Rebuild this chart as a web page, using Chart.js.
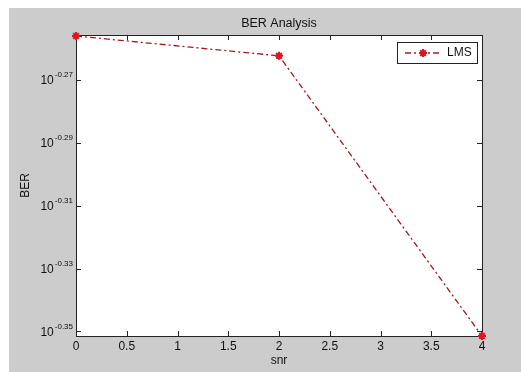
<!DOCTYPE html>
<html>
<head>
<meta charset="utf-8">
<script src="https://cdn.jsdelivr.net/npm/chart.js@4"></script>
<style>
  html, body { margin: 0; padding: 0; background: #fff; }
  #wrap { width: 521px; height: 372px; }
</style>
</head>
<body>
<div id="wrap"><canvas id="berChart" width="521" height="372"></canvas></div>
<script>
// data
const snr = [0, 2, 4];
const ber = [0.5546, 0.5466, 0.4452];
const xTicks = [0, 0.5, 1, 1.5, 2, 2.5, 3, 3.5, 4];
const xTickLabels = ['0', '0.5', '1', '1.5', '2', '2.5', '3', '3.5', '4'];
const yTickExps = ['-0.27', '-0.29', '-0.31', '-0.33', '-0.35'];
const yTicks = yTickExps.map(e => Math.pow(10, parseFloat(e)));

const FONT = '"Liberation Sans", Arial, sans-serif';
const LINE_COLOR = '#a8161f';
const MARK_COLOR = '#e0141c';

// MATLAB style figure: gray frame, boxed axes, inward ticks
const matlabFrame = {
    id: 'matlabFrame',
    beforeDraw(chart) {
        const ctx = chart.ctx;
        const a = chart.chartArea;
        ctx.save();
        ctx.fillStyle = '#fff';
        ctx.fillRect(0, 0, chart.width, chart.height);
        ctx.fillStyle = '#cccccc';
        ctx.fillRect(9, 8, chart.width - 9, chart.height - 8);
        ctx.fillStyle = '#fff';
        ctx.fillRect(a.left, a.top, a.right - a.left, a.bottom - a.top);
        ctx.restore();
    },
    beforeDatasetsDraw(chart) {
        const ctx = chart.ctx;
        const a = chart.chartArea;
        const xs = chart.scales.x;
        const ys = chart.scales.y;
        ctx.save();
        ctx.strokeStyle = '#222';
        ctx.lineWidth = 1;
        ctx.strokeRect(a.left + 0.5, a.top + 0.5, a.right - a.left, a.bottom - a.top);

        ctx.beginPath();
        xTicks.forEach(v => {
            const px = Math.round(xs.getPixelForValue(v)) + 0.5;
            ctx.moveTo(px, a.bottom);
            ctx.lineTo(px, a.bottom - 5);
            ctx.moveTo(px, a.top);
            ctx.lineTo(px, a.top + 5);
        });
        yTicks.forEach(v => {
            const py = Math.round(ys.getPixelForValue(v)) + 0.5;
            ctx.moveTo(a.left, py);
            ctx.lineTo(a.left + 5, py);
            ctx.moveTo(a.right, py);
            ctx.lineTo(a.right - 5, py);
        });
        ctx.stroke();

        // tick labels
        ctx.fillStyle = '#111';
        ctx.font = '12px ' + FONT;
        ctx.textAlign = 'center';
        ctx.textBaseline = 'middle';
        xTicks.forEach((v, i) => {
            ctx.fillText(xTickLabels[i], xs.getPixelForValue(v), a.bottom + 11);
        });
        yTicks.forEach((v, i) => {
            const py = ys.getPixelForValue(v);
            ctx.font = '8px ' + FONT;
            ctx.textAlign = 'right';
            const w = ctx.measureText(yTickExps[i]).width;
            ctx.fillText(yTickExps[i], a.left - 3, py - 5);
            ctx.font = '12px ' + FONT;
            ctx.fillText('10', a.left - 4 - w, py + 1);
        });

        // titles
        const midX = (a.left + a.right) / 2;
        ctx.textAlign = 'center';
        ctx.font = '12.5px ' + FONT;
        ctx.fillText('BER Analysis', midX, 24);
        ctx.font = '12px ' + FONT;
        ctx.fillText('snr', midX, 361);
        ctx.translate(26, (a.top + a.bottom) / 2);
        ctx.rotate(-Math.PI / 2);
        ctx.fillText('BER', 0, 0);
        ctx.restore();
    },
    afterDraw(chart) {
        const ctx = chart.ctx;
        const ds = chart.data.datasets[0];
        ctx.save();
        ctx.fillStyle = '#fff';
        ctx.fillRect(397, 42, 80, 21);
        ctx.strokeStyle = '#222';
        ctx.lineWidth = 1;
        ctx.strokeRect(397.5, 42.5, 80, 21);
        ctx.strokeStyle = LINE_COLOR;
        ctx.lineWidth = 1.3;
        ctx.setLineDash([6, 3, 2, 3]);
        ctx.beginPath();
        ctx.moveTo(405, 53);
        ctx.lineTo(441, 53);
        ctx.stroke();
        ctx.setLineDash([]);
        ctx.strokeStyle = MARK_COLOR;
        ctx.fillStyle = MARK_COLOR;
        ctx.lineWidth = 2;
        Chart.helpers.drawPoint(ctx, { pointStyle: 'star', radius: 4, borderWidth: 2 }, 423, 53);
        ctx.fillStyle = '#111';
        ctx.font = '12px ' + FONT;
        ctx.textAlign = 'left';
        ctx.textBaseline = 'middle';
        ctx.fillText(ds.label, 447, 53);
        ctx.restore();
    }
};

new Chart(document.getElementById('berChart'), {
    type: 'line',
    data: {
        datasets: [{
            label: 'LMS',
            data: snr.map((x, i) => ({ x: x, y: ber[i] })),
            borderColor: LINE_COLOR,
            borderWidth: 1.3,
            borderDash: [6, 3, 2, 3],
            pointStyle: 'star',
            pointRadius: 4,
            pointBorderWidth: 2,
            pointBorderColor: MARK_COLOR,
            pointBackgroundColor: MARK_COLOR,
            tension: 0,
            clip: false
        }]
    },
    options: {
        responsive: false,
        animation: false,
        layout: { padding: { left: 76, top: 35, right: 39, bottom: 36 } },
        plugins: {
            legend: { display: false },
            title: { display: false },
            tooltip: { enabled: false }
        },
        scales: {
            x: { type: 'linear', min: 0, max: 4, display: false },
            y: { type: 'logarithmic', min: 0.4452, max: 0.555, display: false }
        }
    },
    plugins: [matlabFrame]
});
</script>
</body>
</html>
